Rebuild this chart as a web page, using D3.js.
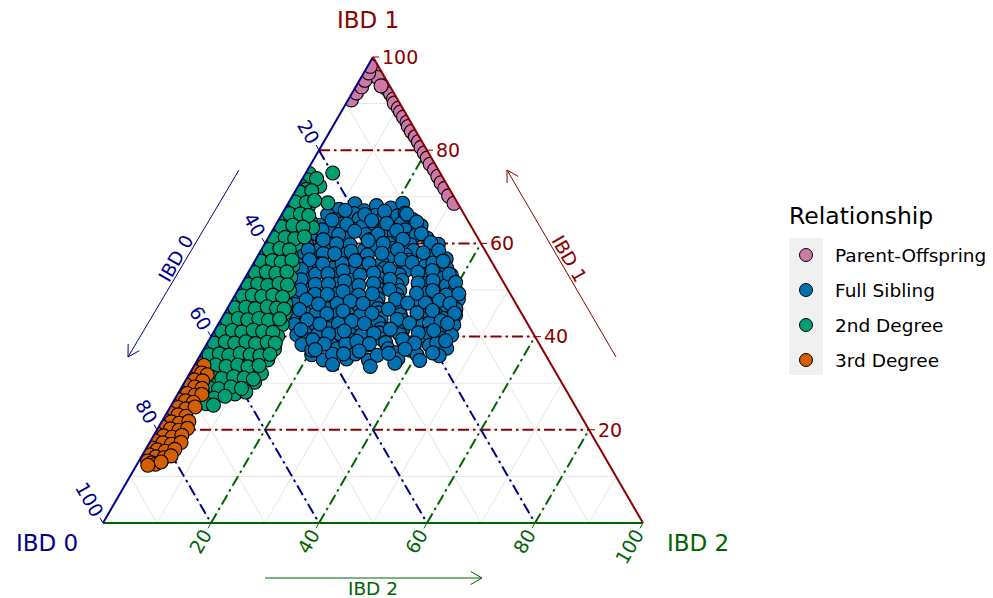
<!DOCTYPE html>
<html>
<head>
<meta charset="utf-8">
<script src="https://cdn.jsdelivr.net/npm/d3@7"></script>
<style>
  body { margin: 0; background: #fff; }
  svg { font-family: "DejaVu Sans", sans-serif; }
</style>
</head>
<body>
<div id="chart"></div>
<script>
// relationship classes, legend order
const categories = ['Parent-Offspring', 'Full Sibling', '2nd Degree', '3rd Degree'];
const palette = ['#cc79a7', '#0072b2', '#009e73', '#d55e00'];

// every point is [IBD1, IBD2] in percent, IBD0 = 100 - IBD1 - IBD2
const parentOffspring = [
  [99.0,0.6],[98.1,1.2],[97.2,2.1],[96.0,3.2],[95.1,4.2],[94.0,5.3],[93.2,5.9],[92.1,7.2],
  [91.0,8.3],[90.1,8.9],[89.0,10.2],[88.2,11.0],[87.1,12.1],[86.0,13.3],[85.1,14.0],[84.0,15.1],
  [82.9,16.4],[81.8,17.5],[80.6,18.6],[79.4,19.8],[78.3,20.9],[77.0,22.1],[75.8,23.5],[74.4,24.8],
  [73.0,26.1],[71.8,27.4],[70.2,28.9],[68.6,30.7],[97.6,1.4],[95.6,3.0],[93.8,4.6],
  [90.8,0.6],[92.3,0.8],[93.6,1.1],[95.0,1.0],[96.6,0.9],[98.0,0.5]
];

const fullSibling = [
  [67.3,10.1],[68.5,12.4],[67.0,14.9],[68.1,16.6],[67.6,19.5],[68.6,21.2],
  [66.2,8.5],[65.1,10.4],[66.4,13.3],[65.3,14.8],[66.0,17.4],[64.9,19.0],[65.9,21.6],[66.5,22.7],[65.1,24.8],
  [63.9,8.2],[62.8,10.9],[64.2,12.2],[63.0,14.9],[63.7,16.3],[62.7,18.9],[63.9,20.3],[64.3,23.1],[62.9,24.5],[63.8,27.0],
  [61.9,8.7],[60.7,10.3],[62.0,13.5],[61.0,14.6],[61.9,17.7],[60.8,19.0],[61.7,21.8],[62.1,22.9],[60.9,26.1],[61.8,27.1],[61.1,29.5],
  [59.7,7.9],[58.6,10.7],[59.9,11.7],[58.8,14.8],[59.7,15.9],[58.5,19.1],[59.5,20.1],[60.0,22.9],[58.9,24.2],[59.7,27.1],[58.5,28.3],[59.4,31.1],[59.8,32.2],
  [57.6,8.0],[56.5,10.8],[57.8,11.9],[56.7,15.0],[57.7,16.1],[56.4,19.0],[57.5,20.2],[57.9,23.3],[56.7,24.4],[57.5,27.3],[56.4,28.4],[57.4,31.5],[57.9,32.6],[56.7,35.2],
  [55.5,8.2],[54.4,11.1],[55.6,12.2],[54.6,15.3],[55.7,16.4],[54.3,19.5],[55.4,20.6],[55.9,23.7],[54.6,24.8],[55.5,27.9],[54.3,29.0],[55.3,32.1],[55.8,33.2],[54.7,36.3],
  [53.3,8.9],[52.2,11.6],[53.4,12.7],[52.4,15.7],[53.5,16.8],[52.1,19.9],[53.2,21.0],[53.7,24.0],[52.4,25.1],[53.3,28.2],[52.1,29.3],[53.1,32.4],[53.6,33.5],[52.5,36.5],[53.2,37.9],
  [51.1,10.0],[50.0,12.7],[51.2,13.7],[50.2,16.8],[51.3,17.8],[49.9,20.8],[51.0,21.9],[51.5,24.9],[50.2,25.9],[51.1,28.9],[49.9,30.0],[50.9,33.0],[51.4,34.0],[50.3,37.0],[51.0,38.1],[50.1,40.2],
  [49.0,11.0],[47.9,13.7],[49.1,14.7],[48.1,17.8],[49.2,18.8],[47.8,21.8],[48.9,22.9],[49.4,25.9],[48.1,26.9],[49.0,29.9],[47.8,31.0],[48.8,34.0],[49.3,35.0],[48.2,38.0],[48.9,39.1],[48.0,41.8],
  [46.9,12.1],[45.8,14.8],[47.0,15.8],[46.0,18.8],[47.1,19.8],[45.7,22.9],[46.8,23.9],[47.3,26.9],[46.0,27.9],[46.9,31.0],[45.7,32.0],[46.7,35.0],[47.2,36.1],[46.1,39.1],[46.8,40.1],[45.9,42.4],
  [44.7,13.2],[43.6,15.9],[44.8,17.0],[43.8,20.1],[44.9,21.2],[43.5,24.3],[44.6,25.4],[45.1,28.5],[43.8,29.6],[44.7,32.7],[43.5,33.8],[44.5,36.9],[45.0,38.0],[43.9,41.1],[44.6,43.0],
  [42.6,14.2],[41.5,16.9],[42.7,18.0],[41.7,21.1],[42.8,22.2],[41.4,25.3],[42.5,26.4],[43.0,29.5],[41.7,30.6],[42.6,33.7],[41.4,34.8],[42.4,37.9],[42.9,39.0],[41.8,42.1],[42.5,43.7],
  [40.4,15.7],[39.3,18.4],[40.5,19.5],[39.5,22.5],[40.6,23.6],[39.2,26.6],[40.3,27.7],[40.8,30.7],[39.5,31.8],[40.4,34.8],[39.2,35.9],[40.2,38.9],[40.7,40.0],[39.6,43.0],[40.3,44.4],
  [38.3,17.7],[37.2,20.4],[38.4,21.5],[37.4,24.6],[38.5,25.7],[37.1,28.8],[38.2,29.9],[38.7,33.0],[37.4,34.1],[38.3,37.2],[37.1,38.3],[38.1,41.4],[38.6,42.5],[37.5,44.9],
  [36.1,20.6],[35.0,23.3],[36.2,24.4],[35.2,27.5],[36.3,28.6],[34.9,31.7],[36.0,32.8],[36.5,35.9],[35.2,37.0],[36.1,40.1],[34.9,41.2],[35.9,44.3],
  [34.0,25.5],[33.6,32.7],[34.3,36.9],[37.1,20.1],
  [67.1,11.3],[66.2,15.4],[66.9,18.7],[66.3,23.1],
  [65.0,9.9],[64.1,13.1],[64.9,17.3],[64.3,20.4],[64.6,25.8],
  [62.9,9.1],[61.9,12.7],[62.6,15.3],[62.0,19.9],[62.8,23.0],[62.1,27.9],
  [60.8,10.4],[59.9,13.3],[60.6,18.8],[60.0,21.9],[60.9,25.1],[60.2,30.6],
  [58.6,8.7],[57.8,14.0],[58.3,16.8],[57.9,22.7],[58.7,25.2],[58.0,30.3],[58.5,32.9],
  [56.5,10.0],[55.6,12.9],[56.3,18.6],[55.7,21.4],[56.6,26.9],[55.9,29.3],[56.2,34.9],
  [54.4,9.5],[53.5,14.9],[54.1,17.4],[53.6,23.3],[54.5,25.8],[53.8,31.4],[54.2,33.9],[53.4,37.4],
  [52.2,10.6],[51.3,16.1],[51.9,18.8],[51.4,24.4],[52.3,27.0],[51.5,32.6],[52.0,35.1],[51.6,39.5],
  [50.0,11.6],[49.1,17.0],[49.7,19.6],[49.2,25.3],[50.1,28.0],[49.3,33.4],[49.9,36.1],[49.2,41.3],
  [47.9,13.7],[47.0,16.4],[47.6,22.0],[47.1,24.6],[48.0,30.2],[47.2,32.8],[47.8,38.4],[47.1,40.7],
  [45.8,13.5],[44.9,19.0],[45.5,21.7],[45.0,27.3],[45.9,29.9],[45.1,35.6],[45.6,38.2],[45.0,42.6],
  [43.6,16.0],[42.7,18.8],[43.3,24.4],[42.8,27.0],[43.7,32.6],[42.9,35.3],[43.4,40.9],[42.8,42.4],
  [41.5,15.9],[40.6,21.5],[41.2,24.1],[40.7,29.8],[41.6,32.4],[40.8,38.0],[41.3,40.6],
  [39.3,19.2],[38.4,21.8],[39.0,27.5],[38.5,30.1],[39.4,35.8],[38.6,38.4],[39.1,43.9],
  [37.2,20.7],[36.3,26.4],[36.9,29.0],[36.4,34.7],[37.3,37.3],[36.5,42.8]
];

const secondDegree = [
  [75.0,0.7],[73.6,1.2],[75.1,5.0],[72.4,0.4],[71.6,1.8],[72.3,4.0],
  [70.3,0.6],[69.6,2.7],[70.8,1.5],[67.8,0.3],[67.2,2.2],[67.9,4.1],[68.7,7.3],
  [65.3,0.5],[64.7,2.4],[65.4,4.3],[64.8,6.0],[62.8,0.4],[62.1,2.2],[62.9,4.1],[62.3,6.2],[63.4,7.1],
  [60.2,0.3],[59.7,2.1],[60.4,3.9],[59.8,5.8],[57.8,0.6],[57.1,2.3],[57.9,4.4],[57.2,6.3],
  [55.3,0.3],[54.7,2.0],[55.4,3.9],[54.8,5.9],[55.2,7.6],[52.8,0.5],[52.2,2.4],[52.9,4.2],[52.3,6.3],[52.7,8.4],
  [50.3,0.3],[49.7,2.0],[50.4,3.9],[49.8,5.8],[50.5,7.8],[49.9,9.6],
  [47.8,0.6],[47.2,2.4],[47.9,4.3],[47.3,6.2],[47.7,8.2],[47.1,10.3],
  [45.3,0.4],[44.7,2.2],[45.4,4.0],[44.8,5.9],[45.2,7.8],[44.6,9.7],[45.1,11.2],
  [42.8,0.3],[42.2,2.1],[42.9,4.0],[42.3,5.9],[42.7,7.9],[42.1,9.8],[42.6,11.9],
  [40.3,0.5],[39.7,2.3],[40.4,4.2],[39.8,6.1],[40.2,8.1],[39.6,10.0],[40.1,12.3],
  [37.8,0.4],[37.2,2.2],[37.9,4.1],[37.3,6.0],[37.7,8.0],[37.1,10.1],[37.6,12.2],[37.3,13.1],
  [35.4,1.2],[34.8,3.0],[35.3,5.0],[34.7,7.0],[35.2,9.1],[34.6,11.2],[35.0,13.0],
  [32.8,3.1],[32.2,5.2],[32.9,7.2],[32.3,9.3],[32.7,11.4],[32.1,13.3],
  [30.4,5.6],[29.8,7.7],[30.5,9.8],[29.9,11.9],[30.2,13.0],[28.3,8.5],[27.7,10.6],[28.1,12.4],
  [71.0,0.9],[68.9,1.1],[66.4,1.3],[63.6,1.2],[61.2,1.0],[58.7,1.4],[56.2,1.1],[53.7,1.3],
  [51.2,1.2],[48.7,1.5],[46.2,1.3],[43.6,1.2],[41.1,1.4],[38.6,1.3],[36.1,1.6],[33.6,1.9],
  [73.9,2.6],[71.3,3.0],[68.8,3.3],[69.2,4.6],[66.3,3.4],[66.0,5.1],[63.9,3.2],[63.5,5.3],
  [61.3,3.1],[61.0,5.0],[61.4,6.6],[58.9,3.3],[58.6,5.2],[56.3,3.2],[56.0,5.0],[56.4,6.8],
  [53.9,3.3],[53.6,5.2],[53.9,7.1],[51.3,3.0],[51.0,5.0],[51.4,6.9],[51.1,8.6],
  [48.9,3.2],[48.6,5.1],[48.9,7.0],[48.5,9.0],[46.3,3.3],[46.0,5.2],[46.4,7.2],[46.1,9.1],[45.9,10.6],
  [43.9,3.1],[43.6,5.0],[43.9,6.9],[43.5,8.9],[43.8,10.8],[41.3,3.3],[41.0,5.2],[41.4,7.1],[41.1,9.0],[40.9,11.0],
  [38.9,3.2],[38.6,5.1],[38.9,7.0],[38.5,9.0],[38.8,11.0],[38.6,12.6],
  [36.3,3.4],[36.0,5.3],[36.4,7.2],[36.1,9.2],[35.9,11.1],[36.2,12.8],
  [33.9,3.9],[33.6,6.0],[33.9,8.0],[33.5,10.1],[33.8,12.0],
  [31.3,4.5],[31.0,6.5],[31.4,8.5],[31.1,10.6],[30.9,12.4],
  [29.1,5.0],[28.8,7.0],[29.2,9.1],[28.9,11.2],[27.1,5.3],[26.8,7.2],[27.2,9.0],[25.6,6.3],[25.3,7.8]
];

const thirdDegree = [
  [34.3,0.4],[33.8,1.8],[32.6,0.5],[32.2,2.2],[31.8,3.4],[31.1,0.3],[30.7,1.6],[30.5,3.2],
  [29.6,0.6],[29.2,2.4],[28.9,3.9],[28.1,0.3],[27.8,1.7],[27.4,3.3],[27.6,4.5],
  [26.6,0.5],[26.2,2.2],[25.9,3.8],[25.2,0.3],[24.8,1.5],[24.5,3.1],[24.9,4.6],
  [23.6,0.6],[23.2,2.3],[22.9,3.9],[22.1,0.4],[21.7,1.8],[21.4,3.4],[21.8,5.0],
  [20.6,0.7],[20.2,2.4],[19.9,4.1],[20.3,5.5],[19.1,0.5],[18.7,1.9],[18.4,3.6],[18.8,5.2],
  [17.6,0.8],[17.2,2.5],[16.9,4.2],[17.3,5.8],[16.1,1.0],[15.7,2.2],[15.4,3.8],[15.8,5.4],
  [14.6,1.3],[14.2,2.7],[14.0,4.3],[14.4,5.4],[13.3,1.6],[12.9,2.6],[12.6,3.4],[13.1,4.2],[12.4,2.1]
];

const seriesData = [parentOffspring, fullSibling, secondDegree, thirdDegree];
const tickValues = [20, 40, 60, 80, 100];

// axis colours
const c0 = '#00008b', c1 = '#8b0000', c2 = '#006400';

// triangle placement
const x0 = 103, y0 = 523, side = 540, tall = 466;
const sx = d3.scaleLinear().domain([0, 100]).range([0, side]);
const sy = d3.scaleLinear().domain([0, 100]).range([0, tall]);

// ternary -> pixel
function proj(ibd1, ibd2) {
  return [x0 + sx(ibd2 + ibd1 / 2), y0 - sy(ibd1)];
}

const svg = d3.select('#chart')
  .append('svg')
  .attr('width', 993)
  .attr('height', 598);

const vA = proj(0, 0), vB = proj(100, 0), vC = proj(0, 100);

svg.append('clipPath').attr('id', 'tri')
  .append('path')
  .attr('d', d3.line()([vA, vB, vC]) + 'Z');

// light grid every 10
const grid = svg.append('g').attr('stroke', '#e6e6e6').attr('stroke-width', 1);
d3.range(10, 100, 10).forEach(k => {
  const segs = [
    [proj(k, 0), proj(k, 100 - k)],          // IBD1 = k
    [proj(100 - k, 0), proj(0, 100 - k)],    // IBD0 = k
    [proj(0, k), proj(100 - k, k)]           // IBD2 = k
  ];
  segs.forEach(s => grid.append('line')
    .attr('x1', s[0][0]).attr('y1', s[0][1]).attr('x2', s[1][0]).attr('y2', s[1][1]));
});

// dash-dot major lines
const major = svg.append('g').attr('stroke-width', 2).attr('stroke-dasharray', '11,4,2.5,4').attr('fill', 'none');
[20, 40, 60, 80].forEach(k => {
  const a = proj(k, 0), b = proj(k, 100 - k);
  major.append('line').attr('stroke', c1).attr('x1', a[0]).attr('y1', a[1]).attr('x2', b[0]).attr('y2', b[1]);
  const c = proj(100 - k, 0), d = proj(0, 100 - k);
  major.append('line').attr('stroke', c0).attr('x1', c[0]).attr('y1', c[1]).attr('x2', d[0]).attr('y2', d[1]);
  const e = proj(0, k), f = proj(100 - k, k);
  major.append('line').attr('stroke', c2).attr('x1', e[0]).attr('y1', e[1]).attr('x2', f[0]).attr('y2', f[1]);
});

// points
const pts = svg.append('g').attr('clip-path', 'url(#tri)');
seriesData.forEach((rows, i) => {
  pts.append('g').selectAll('circle')
    .data(rows)
    .enter()
    .append('circle')
    .attr('cx', d => proj(d[0], d[1])[0])
    .attr('cy', d => proj(d[0], d[1])[1])
    .attr('r', 7)
    .attr('fill', palette[i])
    .attr('stroke', '#000')
    .attr('stroke-width', 1.1);
});

// triangle edges
const edge = (a, b, col) => svg.append('line')
  .attr('x1', a[0]).attr('y1', a[1]).attr('x2', b[0]).attr('y2', b[1])
  .attr('stroke', col).attr('stroke-width', 2);
edge(vA, vB, c0);
edge(vB, vC, c1);
edge(vA, vC, c2);

// ticks and tick labels
const ticks = svg.append('g').attr('font-size', 19);
const up = [-0.5, -0.866], down = [-0.5, 0.866];
tickValues.forEach(k => {
  // IBD1 on right edge
  let p = proj(k, 100 - k);
  ticks.append('line').attr('x1', p[0]).attr('y1', p[1]).attr('x2', p[0] + 6).attr('y2', p[1])
    .attr('stroke', c1).attr('stroke-width', 1);
  ticks.append('text').attr('x', p[0] + 9).attr('y', p[1]).attr('dy', '0.36em')
    .attr('fill', c1).text(k);

  // IBD0 on left edge
  p = proj(100 - k, 0);
  ticks.append('line').attr('x1', p[0]).attr('y1', p[1])
    .attr('x2', p[0] + up[0] * 6).attr('y2', p[1] + up[1] * 6)
    .attr('stroke', c0).attr('stroke-width', 1);
  const lx = p[0] + up[0] * 9, ly = p[1] + up[1] * 9;
  ticks.append('text').attr('transform', `translate(${lx},${ly}) rotate(60)`)
    .attr('text-anchor', 'end').attr('dy', '0.36em').attr('fill', c0).text(k);

  // IBD2 on bottom edge
  p = proj(0, k);
  ticks.append('line').attr('x1', p[0]).attr('y1', p[1])
    .attr('x2', p[0] + down[0] * 6).attr('y2', p[1] + down[1] * 6)
    .attr('stroke', c2).attr('stroke-width', 1);
  const bx = p[0] + down[0] * 9, by = p[1] + down[1] * 9;
  ticks.append('text').attr('transform', `translate(${bx},${by}) rotate(-60)`)
    .attr('text-anchor', 'end').attr('dy', '0.36em').attr('fill', c2).text(k);
});

// corner labels
svg.append('text').attr('x', 368).attr('y', 20).attr('dy', '0.36em').attr('text-anchor', 'middle')
  .attr('font-size', 23).attr('fill', c1).text('IBD 1');
svg.append('text').attr('x', 47).attr('y', 543).attr('dy', '0.36em').attr('text-anchor', 'middle')
  .attr('font-size', 23).attr('fill', c0).text('IBD 0');
svg.append('text').attr('x', 698).attr('y', 543).attr('dy', '0.36em').attr('text-anchor', 'middle')
  .attr('font-size', 23).attr('fill', c2).text('IBD 2');

// direction arrows along the edges
function arrow(from, to, col) {
  const g = svg.append('g').attr('stroke', col).attr('stroke-width', 1).attr('fill', 'none');
  g.append('line').attr('x1', from[0]).attr('y1', from[1]).attr('x2', to[0]).attr('y2', to[1]);
  const ang = Math.atan2(from[1] - to[1], from[0] - to[0]);
  [-Math.PI / 6, Math.PI / 6].forEach(da => {
    g.append('line').attr('x1', to[0]).attr('y1', to[1])
      .attr('x2', to[0] + 13 * Math.cos(ang + da)).attr('y2', to[1] + 13 * Math.sin(ang + da));
  });
}
arrow([239, 170], [128, 357], c0);
arrow([616, 357], [507, 170], c1);
arrow([265, 578], [482, 578], c2);

svg.append('text').attr('transform', 'translate(181.5,261.5) rotate(-60)')
  .attr('text-anchor', 'middle').attr('font-size', 18.5).attr('fill', c0).text('IBD 0');
svg.append('text').attr('transform', 'translate(563.5,262) rotate(60)')
  .attr('text-anchor', 'middle').attr('font-size', 18.5).attr('fill', c1).text('IBD 1');
svg.append('text').attr('x', 373).attr('y', 595)
  .attr('text-anchor', 'middle').attr('font-size', 18.5).attr('fill', c2).text('IBD 2');

// legend
const legend = svg.append('g');
legend.append('text').attr('x', 789).attr('y', 216).attr('dy', '0.36em')
  .attr('font-size', 23.5).attr('fill', '#000').text('Relationship');
legend.append('rect').attr('x', 789).attr('y', 238).attr('width', 34).attr('height', 137)
  .attr('fill', '#f0f0f0');
categories.forEach((name, i) => {
  const ly = 255 + i * 35;
  legend.append('circle').attr('cx', 806).attr('cy', ly).attr('r', 6.5)
    .attr('fill', palette[i]).attr('stroke', '#000').attr('stroke-width', 1);
  legend.append('text').attr('x', 835).attr('y', ly).attr('dy', '0.36em')
    .attr('font-size', 18.5).attr('fill', '#000').text(name);
});
</script>
</body>
</html>
